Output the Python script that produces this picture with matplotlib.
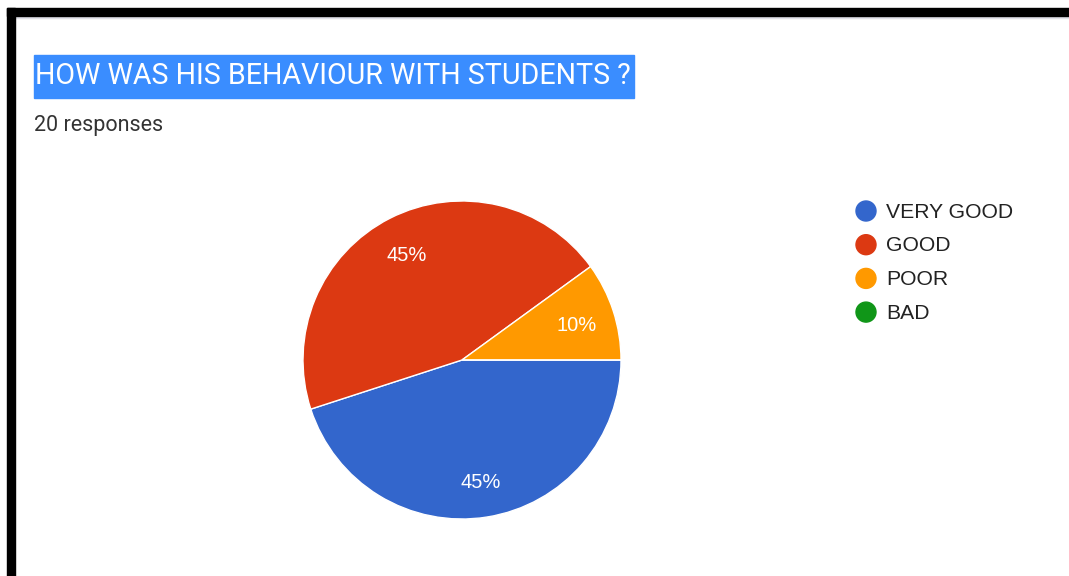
import matplotlib
matplotlib.use("Agg")
import matplotlib.pyplot as plt
from matplotlib.patches import Rectangle, Circle

categories = ["VERY GOOD", "GOOD", "POOR", "BAD"]
values = [45, 45, 10, 0]
colors = ["#3366CC", "#DC3912", "#FF9900", "#109618"]
title = "HOW WAS HIS BEHAVIOUR WITH STUDENTS ?"
subtitle = "20 responses"

W, H = 1069, 576
fig = plt.figure(figsize=(W / 100, H / 100), dpi=100)
fig.patch.set_facecolor("white")

# overlay in pixel coordinates
ov = fig.add_axes([0, 0, 1, 1])
ov.set_xlim(0, W)
ov.set_ylim(H, 0)
ov.axis("off")
ov.add_patch(Rectangle((7, 8), W - 7, 8, color="black", zorder=5))
ov.add_patch(Rectangle((7, 8), 8, H - 8, color="black", zorder=5))
ov.add_patch(Rectangle((15, 16), W - 15, 2, color="#E3E3EA", zorder=4))
ov.add_patch(Rectangle((34, 55), 600, 43, color="#3A8DFF", zorder=1))
ov.text(35, 76, title, color="white", fontsize=20.6, family="Roboto",
        va="center", ha="left", zorder=2)
ov.text(34, 126, subtitle, color="#333333", fontsize=15.5, family="Roboto",
        va="center", ha="left")

# legend
for i, (lab, c) in enumerate(zip(categories, colors)):
    y = 211 + i * 33.7
    ov.add_patch(Circle((866, y), 10, color=c))
    ov.text(886, y + 1, lab, color="#222222", fontsize=15.2, family="Liberation Sans",
            va="center", ha="left")

# pie
cx, cy, r = 462, 360, 159
ax = fig.add_axes([(cx - r) / W, (H - cy - r) / H, 2 * r / W, 2 * r / H])
wedges, texts, autotexts = ax.pie(
    values, colors=colors, startangle=0, counterclock=False,
    autopct=lambda p: f"{p:.0f}%" if p > 0 else "", pctdistance=0.76,
    wedgeprops=dict(edgecolor="white", linewidth=1), radius=1,
    textprops=dict(color="white", fontsize=14.5, family="Liberation Sans"))
for t in autotexts:
    x, y = t.get_position()
    t.set_position((x, y - 3 / r))
ax.set_xlim(-1, 1)
ax.set_ylim(-1, 1)
ax.axis("off")

fig.savefig("out.png", dpi=100, facecolor="white")
